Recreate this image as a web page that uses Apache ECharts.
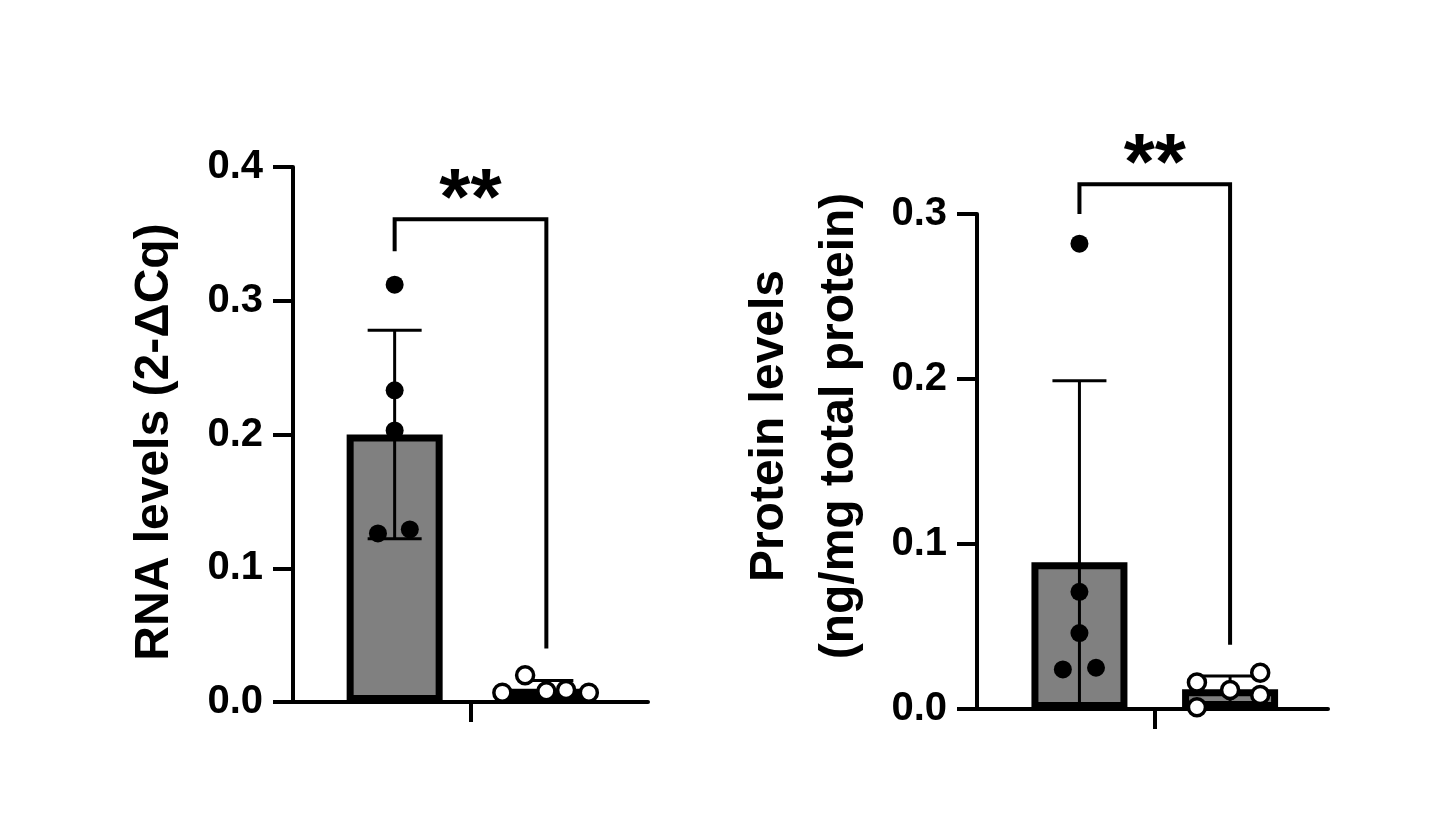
<!DOCTYPE html>
<html>
<head>
<meta charset="utf-8">
<script src="https://cdn.jsdelivr.net/npm/echarts@6/dist/echarts.min.js"></script>
<style>
  html, body { margin: 0; padding: 0; background: #fff; }
  #chart { width: 1456px; height: 819px; }
</style>
</head>
<body>
<div id="chart"></div>
<script>
// x positions of the two groups (value axis, 0 = tick between them)
const barX = [-0.5, 0.5];

// left panel: RNA
const rnaMean = [0.200, 0.010];
const rnaSD = [0.078, 0.006];
const rnaDots = [[-0.5, 0.312], [-0.5, 0.233], [-0.5, 0.203], [-0.61, 0.126], [-0.40, 0.129]];
const rnaOpen = [[0.21, 0.007], [0.36, 0.020], [0.5, 0.008], [0.63, 0.009], [0.78, 0.007]];
const rnaBracket = [[-0.5, 0.337], [-0.5, 0.361], [0.5, 0.361], [0.5, 0.040]];
const rnaStar = [[0, 0.374]];
const rnaTicks = [0, 0.4, 0.1];

// right panel: protein
const protMean = [0.089, 0.012];
const protSD = [0.110, 0.008];
const protDots = [[-0.5, 0.282], [-0.5, 0.071], [-0.5, 0.046], [-0.61, 0.024], [-0.39, 0.025]];
const protOpen = [[0.28, 0.016], [0.5, 0.0115], [0.70, 0.022], [0.70, 0.0085], [0.28, 0.001]];
const protBracket = [[-0.5, 0.300], [-0.5, 0.318], [0.5, 0.318], [0.5, 0.039]];
const protStar = [[0, 0.3285]];
const protTicks = [0, 0.3, 0.1];

const FONT = 'Liberation Sans, Arial, sans-serif';

var chart = echarts.init(document.getElementById('chart'));

function errRender(params, api) {
    const x = api.value(0), m = api.value(1), s = api.value(2);
    const top = api.coord([x, m + s]);
    const bot = api.coord([x, m - s]);
    const hw = 27;
    const st = { stroke: '#000', lineWidth: 3 };
    return {
        type: 'group',
        children: [
            { type: 'line', shape: { x1: top[0], y1: top[1], x2: bot[0], y2: bot[1] }, style: st },
            { type: 'line', shape: { x1: top[0] - hw, y1: top[1], x2: top[0] + hw, y2: top[1] }, style: st },
            { type: 'line', shape: { x1: bot[0] - hw, y1: bot[1], x2: bot[0] + hw, y2: bot[1] }, style: st }
        ]
    };
}

function xAxisOf(idx, min, max) {
    return {
        type: 'value', gridIndex: idx, min: min, max: max,
        axisLine: { show: true, onZero: false, lineStyle: { color: '#000', width: 4 } },
        axisTick: { show: true, customValues: [0], length: 20, lineStyle: { color: '#000', width: 4 } },
        axisLabel: { show: false },
        splitLine: { show: false }
    };
}

function yAxisOf(idx, t) {
    return {
        type: 'value', gridIndex: idx, min: t[0], max: t[1], interval: t[2],
        axisLine: { show: true, onZero: false, lineStyle: { color: '#000', width: 4 } },
        axisTick: { show: true, length: 20, lineStyle: { color: '#000', width: 4 } },
        axisLabel: {
            margin: 30, fontSize: 40, fontWeight: 'bold', color: '#000', fontFamily: FONT,
            formatter: function (v) { return v.toFixed(1); }
        },
        splitLine: { show: false }
    };
}

function panel(idx, mean, sd, dots, open, bracket, star) {
    return [
        {
            type: 'bar', xAxisIndex: idx, yAxisIndex: idx, barWidth: 96, z: 2,
            data: barX.map((x, i) => [x, mean[i]]),
            itemStyle: { color: '#808080', borderColor: '#000', borderWidth: 7 }
        },
        {
            type: 'custom', xAxisIndex: idx, yAxisIndex: idx, z: 3, clip: true,
            renderItem: errRender,
            data: barX.map((x, i) => [x, mean[i], sd[i]])
        },
        {
            type: 'scatter', xAxisIndex: idx, yAxisIndex: idx, z: 4,
            symbolSize: 18, data: dots,
            itemStyle: { color: '#000', opacity: 1 }
        },
        {
            type: 'scatter', xAxisIndex: idx, yAxisIndex: idx, z: 4,
            symbolSize: 17, data: open,
            itemStyle: { color: '#fff', borderColor: '#000', borderWidth: 3.5, opacity: 1 }
        },
        {
            type: 'line', xAxisIndex: idx, yAxisIndex: idx, z: 3, clip: false,
            symbol: 'none', data: bracket,
            lineStyle: { color: '#000', width: 4, join: 'miter' }
        },
        {
            type: 'scatter', xAxisIndex: idx, yAxisIndex: idx, z: 5, clip: false,
            symbolSize: 1, data: star,
            itemStyle: { color: 'rgba(0,0,0,0)', opacity: 1 },
            label: {
                show: true, position: 'inside', formatter: '**',
                fontSize: 80, fontWeight: 'bold', color: '#000', fontFamily: FONT
            }
        }
    ];
}

option = {
    animation: false,
    backgroundColor: '#fff',
    grid: [
        { left: 293, top: 167, width: 355, height: 535 },
        { left: 977, top: 214, width: 351, height: 495 }
    ],
    xAxis: [xAxisOf(0, -1.17, 1.17), xAxisOf(1, -1.18, 1.15)],
    yAxis: [yAxisOf(0, rnaTicks), yAxisOf(1, protTicks)],
    graphic: [
        {
            type: 'text', x: 155, y: 442, rotation: Math.PI / 2,
            style: {
                text: 'RNA levels (2-ΔCq)', fontSize: 48, fontWeight: 'bold', fontFamily: FONT,
                fill: '#000', align: 'center', verticalAlign: 'middle'
            }
        },
        {
            type: 'text', x: 805, y: 426, rotation: Math.PI / 2,
            style: {
                text: 'Protein levels\n(ng/mg total protein)', fontSize: 48, fontWeight: 'bold', fontFamily: FONT,
                fill: '#000', align: 'center', verticalAlign: 'middle', lineHeight: 70
            }
        }
    ],
    series: panel(0, rnaMean, rnaSD, rnaDots, rnaOpen, rnaBracket, rnaStar)
        .concat(panel(1, protMean, protSD, protDots, protOpen, protBracket, protStar))
};

chart.setOption(option);
</script>
</body>
</html>
